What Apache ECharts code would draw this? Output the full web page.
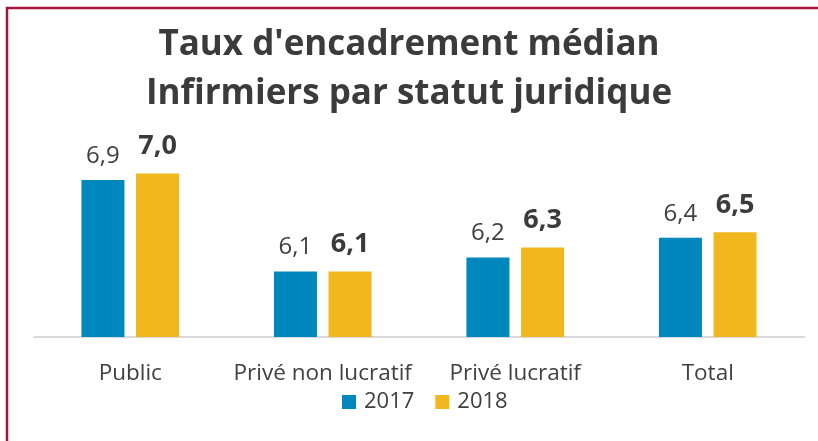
<!DOCTYPE html>
<html>
<head>
<meta charset="utf-8">
<script src="https://cdn.jsdelivr.net/npm/echarts@6/dist/echarts.min.js"></script>
<style>
  html, body { margin: 0; padding: 0; background: #fff; }
  #chart { width: 818px; height: 441px; }
</style>
</head>
<body>
<div id="chart"></div>
<script>
var categories = ['Public', 'Privé non lucratif', 'Privé lucratif', 'Total'];
var seriesNames = ['2017', '2018'];
var values2017 = [6.94, 6.1, 6.23, 6.41];
var values2018 = [7.0, 6.1, 6.32, 6.46];

var myChart = echarts.init(document.getElementById('chart'));

function fmt(p) {
    return p.value.toFixed(1).replace('.', ',');
}

var option = {
    animation: false,
    textStyle: { fontFamily: 'Open Sans' },
    title: {
        text: 'Taux d\'encadrement médian\nInfirmiers par statut juridique',
        left: 'center',
        top: 16,
        textStyle: {
            fontFamily: 'Open Sans',
            fontSize: 35,
            fontWeight: 'bold',
            color: '#3b3b3b',
            lineHeight: 49
        }
    },
    color: ['#0087BE', '#F2B71C'],
    legend: {
        data: seriesNames,
        bottom: 23,
        left: 337,
        icon: 'rect',
        itemWidth: 14,
        itemHeight: 14,
        itemGap: 21,
        textStyle: { fontSize: 22, color: '#404040', fontFamily: 'Open Sans', padding: [0, 0, 0, 3] }
    },
    grid: {
        left: 34,
        right: 14,
        top: 119,
        bottom: 104
    },
    xAxis: {
        type: 'category',
        data: categories,
        axisTick: { show: false },
        axisLine: { lineStyle: { color: '#d9d9d9', width: 2 } },
        axisLabel: { interval: 0, fontSize: 22.5, color: '#404040', margin: 25, fontFamily: 'Open Sans' }
    },
    yAxis: {
        type: 'value',
        min: 5.5,
        max: 7.5,
        show: false
    },
    series: [{
        name: '2017',
        type: 'bar',
        barWidth: 43,
        barGap: '27%',
        data: values2017,
        label: {
            show: true,
            position: 'top',
            distance: 12,
            fontSize: 24,
            color: '#404040',
            formatter: fmt
        }
    }, {
        name: '2018',
        type: 'bar',
        barWidth: 43,
        data: values2018,
        label: {
            show: true,
            position: 'top',
            distance: 14,
            fontSize: 27,
            fontWeight: 'bold',
            color: '#3b3b3b',
            formatter: fmt
        }
    }],
    graphic: [{
        type: 'rect',
        silent: true,
        shape: { x: 7, y: 8, width: 900, height: 600 },
        style: { fill: 'none', stroke: '#A3173A', lineWidth: 2.5 }
    }]
};

myChart.setOption(option);

window.onresize = function() {
    myChart.resize();
}
</script>
</body>
</html>
